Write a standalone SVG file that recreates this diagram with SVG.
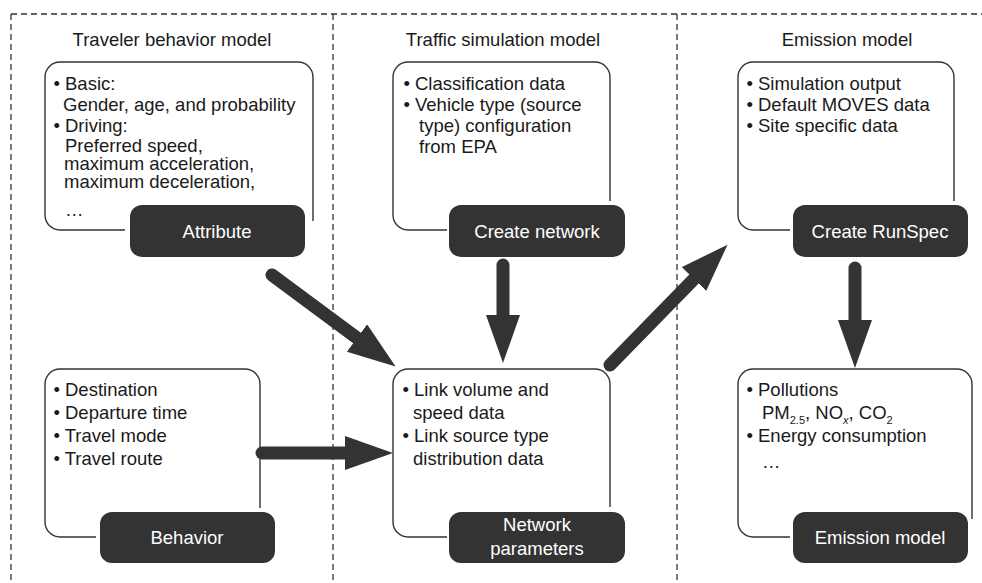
<svg xmlns="http://www.w3.org/2000/svg" width="982" height="583" viewBox="0 0 982 583">
<defs>
<style>
text{font-family:"Liberation Sans",Arial,sans-serif;font-size:18.5px;fill:#1a1a1a}
.t{text-anchor:middle}
.lbl{text-anchor:middle;fill:#fff}
.box{fill:none;stroke:#333;stroke-width:1.4}
.dark{fill:#333}
.dash{fill:none;stroke:#333;stroke-width:1.3;stroke-dasharray:6 4}
.arr{stroke:#333;stroke-width:13;stroke-linecap:round;fill:none;marker-end:url(#head)}
.sub{font-size:11px}
</style>
<marker id="head" markerUnits="userSpaceOnUse" markerWidth="50" markerHeight="36" refX="0" refY="17" orient="auto" viewBox="0 0 50 36">
<path d="M0,0 L48,17 L0,34 Z" fill="#333"/>
</marker>
</defs>
<rect width="982" height="583" fill="#fff"/>
<g id="frame">
<path class="dash" d="M11,14 H982"/>
<path class="dash" d="M11,14 V583"/>
<path class="dash" d="M333,14 V583"/>
<path class="dash" d="M677,14 V583"/>
</g>
<g id="titles">
<text class="t" x="172" y="46">Traveler behavior model</text>
<text class="t" x="503" y="46">Traffic simulation model</text>
<text class="t" x="847" y="46">Emission model</text>
</g>
<g id="connectors">
<line class="arr" x1="272" y1="275" x2="357" y2="338"/>
<line class="arr" x1="503" y1="265" x2="503" y2="315"/>
<line class="arr" x1="262" y1="453" x2="345" y2="453"/>
<line class="arr" x1="610" y1="365" x2="694" y2="279"/>
<line class="arr" x1="855" y1="268" x2="855" y2="320"/>
</g>
<g id="attribute">
<path class="box" d="M125,230 H60 A15,15 0 0 1 45,215 V77 A15,15 0 0 1 60,62 H298 A15,15 0 0 1 313,77 V221"/>
<text x="53.4" y="90">• Basic:</text>
<text x="63" y="111">Gender, age, and probability</text>
<text x="53.4" y="132">• Driving:</text>
<text x="65" y="152">Preferred speed,</text>
<text x="64" y="170">maximum acceleration,</text>
<text x="64" y="188">maximum deceleration,</text>
<text x="65" y="216">…</text>
<rect class="dark" x="130" y="205" width="175" height="52" rx="12"/>
<text class="lbl" x="217" y="237.5">Attribute</text>
</g>
<g id="create-network">
<path class="box" d="M447,230 H408 A15,15 0 0 1 393,215 V77 A15,15 0 0 1 408,62 H595 A15,15 0 0 1 610,77 V201"/>
<text x="403.4" y="90">• Classification data</text>
<text x="403.4" y="111">• Vehicle type (source</text>
<text x="419" y="132">type) configuration</text>
<text x="419" y="153">from EPA</text>
<rect class="dark" x="449" y="205" width="176" height="52" rx="12"/>
<text class="lbl" x="537" y="237.5">Create network</text>
</g>
<g id="create-runspec">
<path class="box" d="M790,230 H753 A15,15 0 0 1 738,215 V77 A15,15 0 0 1 753,62 H939 A15,15 0 0 1 954,77 V201"/>
<text x="746.4" y="90">• Simulation output</text>
<text x="746.4" y="111">• Default MOVES data</text>
<text x="746.4" y="132">• Site specific data</text>
<rect class="dark" x="793" y="205" width="175" height="52" rx="12"/>
<text class="lbl" x="880" y="237.5">Create RunSpec</text>
</g>
<g id="behavior">
<path class="box" d="M96,537 H60 A15,15 0 0 1 45,522 V384 A15,15 0 0 1 60,369 H245 A15,15 0 0 1 260,384 V508"/>
<text x="53.4" y="396">• Destination</text>
<text x="53.4" y="419">• Departure time</text>
<text x="53.4" y="442">• Travel mode</text>
<text x="53.4" y="465">• Travel route</text>
<rect class="dark" x="100" y="512" width="175" height="51" rx="12"/>
<text class="lbl" x="187" y="544">Behavior</text>
</g>
<g id="network-parameters">
<path class="box" d="M447,537 H408 A15,15 0 0 1 393,522 V384 A15,15 0 0 1 408,369 H595 A15,15 0 0 1 610,384 V507"/>
<text x="402.4" y="396">• Link volume and</text>
<text x="413" y="419">speed data</text>
<text x="402.4" y="442">• Link source type</text>
<text x="413" y="465">distribution data</text>
<rect class="dark" x="449" y="512" width="176" height="51" rx="12"/>
<text class="lbl" x="537" y="531">Network</text>
<text class="lbl" x="537" y="555">parameters</text>
</g>
<g id="emission-model">
<path class="box" d="M790,537 H753 A15,15 0 0 1 738,522 V384 A15,15 0 0 1 753,369 H957 A15,15 0 0 1 972,384 V519"/>
<text x="746.4" y="396">• Pollutions</text>
<text x="762" y="419">PM<tspan class="sub" dy="5">2.5</tspan><tspan dy="-5">, NO</tspan><tspan class="sub" dy="5" font-style="italic">x</tspan><tspan dy="-5">, CO</tspan><tspan class="sub" dy="5">2</tspan></text>
<text x="746.4" y="442">• Energy consumption</text>
<text x="762" y="468">…</text>
<rect class="dark" x="793" y="512" width="175" height="51" rx="12"/>
<text class="lbl" x="880" y="544">Emission model</text>
</g>
</svg>
